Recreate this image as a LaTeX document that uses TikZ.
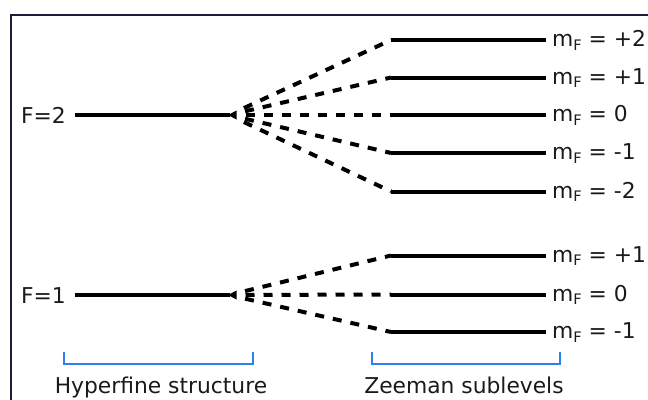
\documentclass[tikz,border=0pt]{standalone}
\usepackage{fontspec}
\setmainfont{DejaVu Sans}
\definecolor{framec}{HTML}{1C1C38}
\definecolor{brk}{HTML}{2F7FEF}
\definecolor{txt}{HTML}{1A1A1A}
\newcommand{\mF}[1]{m\raisebox{-3.5pt}{\fontsize{14.5}{14.5}\selectfont F} = #1}
\begin{document}
\begin{tikzpicture}[x=1pt,y=-1pt,
  lbl/.style={inner sep=0pt,text=txt,font=\fontsize{21.8}{26}\selectfont},
  level/.style={line width=4pt,black},
  fan/.style={line width=4pt,black,dash pattern=on 9pt off 9pt,shorten <=16.5pt},
  bracket/.style={line width=1.6pt,brk}]
\useasboundingbox (0,0) rectangle (648,399);
\begin{scope}
\clip (0,0) rectangle (648,399);
\draw[framec,line width=2.2pt] (11,15) rectangle (700,450);
\end{scope}
% hyperfine levels
\node[lbl,anchor=base east] (F2) at (66,123) {F=2};
\node[lbl,anchor=base east] (F1) at (66,303) {F=1};
\coordinate (F2s) at (75,115);
\coordinate (F2e) at (230,115);
\coordinate (F1s) at (75,295);
\coordinate (F1e) at (230,295);
\draw[level] (F2s) -- (F2e);
\draw[level] (F1s) -- (F1e);
\fill (228,115) -- (236.5,110.5) -- (236.5,119.5) -- cycle;
\fill (228,295) -- (236.5,290.5) -- (236.5,299.5) -- cycle;
\coordinate (o2) at (229,115);
\coordinate (o1) at (229,295);
% Zeeman sublevels F=2
\foreach \n/\y/\v in {a/40/+2,b/77.5/+1,c/115/0,d/153/-1,e/191.5/-2}{
  \coordinate (s\n) at (391,\y);
  \coordinate (t\n) at (546,\y);
  \draw[fan] (o2) -- (s\n);
  \draw[level] (s\n) -- (t\n);
  \node[lbl,anchor=base west] (m\n) at (552,\y+6.5) {\mF{\v}};
}
% Zeeman sublevels F=1
\foreach \n/\y/\v in {f/255.5/+1,g/294.5/0,h/332/-1}{
  \coordinate (s\n) at (391,\y);
  \coordinate (t\n) at (546,\y);
  \draw[fan] (o1) -- (s\n);
  \draw[level] (s\n) -- (t\n);
  \node[lbl,anchor=base west] (m\n) at (552,\y+6.5) {\mF{\v}};
}
% brackets
\coordinate (b1a) at (64,352);
\coordinate (b1b) at (253,352);
\coordinate (b2a) at (372,352);
\coordinate (b2b) at (560,352);
\draw[bracket] (b1a) -- ++(0,12) -| (b1b);
\draw[bracket] (b2a) -- ++(0,12) -| (b2b);
\node[lbl,anchor=base] (hf) at (161,393) {Hyperfine structure};
\node[lbl,anchor=base] (zs) at (464,393) {Zeeman sublevels};
\end{tikzpicture}
\end{document}
